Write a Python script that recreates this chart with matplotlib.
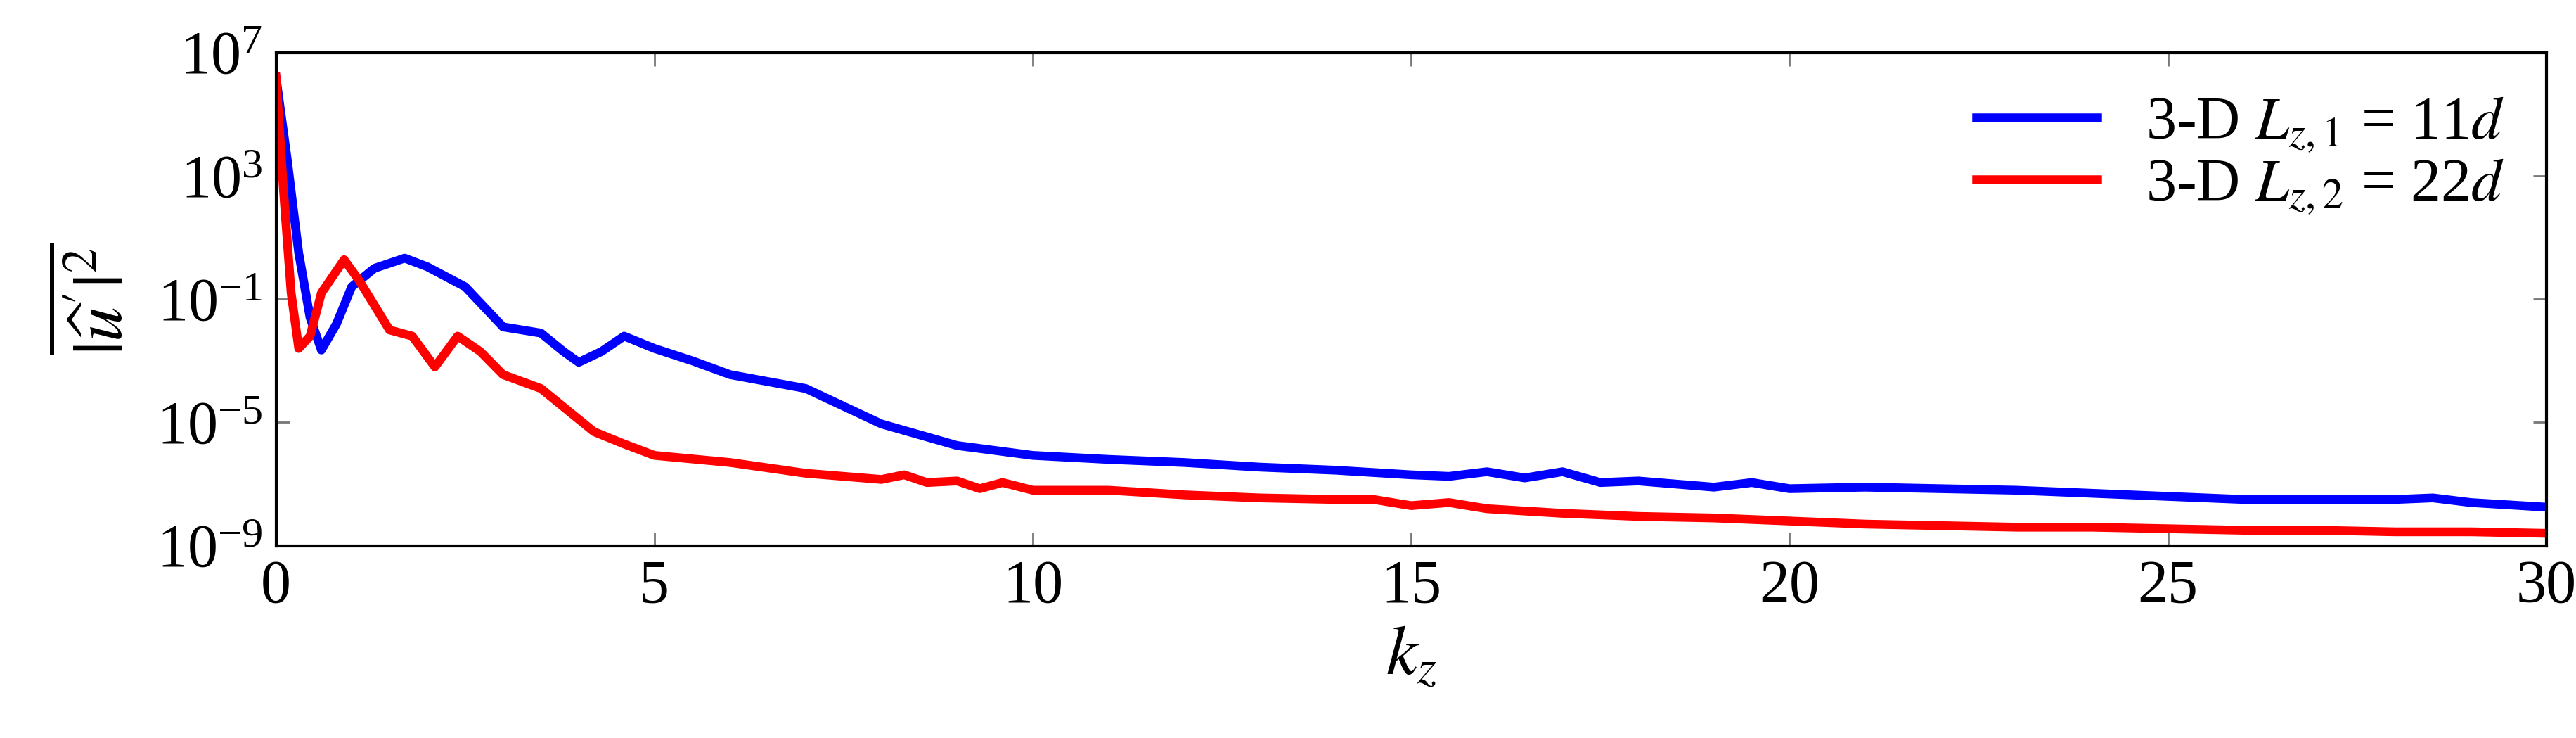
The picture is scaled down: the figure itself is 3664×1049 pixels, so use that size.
import matplotlib
matplotlib.use("Agg")
import matplotlib.pyplot as plt
import numpy as np

plt.rcParams['font.family'] = ['Liberation Serif', 'DejaVu Serif']
plt.rcParams['mathtext.fontset'] = 'stix'

kz_blue = [0, 0.15, 0.3, 0.45, 0.6, 0.8, 1.0, 1.3, 1.7, 2.0, 2.5, 3.0, 3.5, 3.8, 4.0, 4.3, 4.6, 5.0, 5.5, 6.0, 7.0, 8.0, 9.0, 10, 11, 12, 13, 14, 15, 15.5, 16, 16.5, 17, 17.5, 18, 19, 19.5, 20, 21, 22, 23, 24, 25, 26, 27, 28, 28.5, 29, 30]
lg_blue  = [6.2, 3.5, 0.5, -1.6, -2.65, -1.8, -0.6, 0.0, 0.33, 0.05, -0.6, -1.9, -2.1, -2.7, -3.05, -2.7, -2.2, -2.6, -3.0, -3.45, -3.9, -5.05, -5.75, -6.07, -6.2, -6.3, -6.45, -6.55, -6.7, -6.75, -6.6, -6.8, -6.6, -6.95, -6.9, -7.1, -6.95, -7.15, -7.1, -7.15, -7.2, -7.3, -7.4, -7.5, -7.5, -7.5, -7.45, -7.6, -7.75]

kz_red = [0, 0.1, 0.2, 0.3, 0.45, 0.6, 0.9, 1.1, 1.5, 1.8, 2.1, 2.4, 2.7, 3.0, 3.5, 3.8, 4.2, 4.6, 5.0, 6.0, 7.0, 8.0, 8.3, 8.6, 9.0, 9.3, 9.6, 10, 11, 12, 13, 14, 14.5, 15, 15.5, 16, 17, 18, 19, 20, 21, 22, 23, 24, 25, 26, 27, 28, 29, 30]
lg_red  = [6.2, 2.5, -0.8, -2.6, -2.2, -0.8, 0.28, -0.4, -2.0, -2.2, -3.2, -2.2, -2.7, -3.45, -3.9, -4.5, -5.3, -5.7, -6.07, -6.3, -6.65, -6.85, -6.7, -6.95, -6.9, -7.15, -6.95, -7.2, -7.2, -7.35, -7.45, -7.5, -7.5, -7.7, -7.6, -7.8, -7.95, -8.05, -8.1, -8.2, -8.3, -8.35, -8.4, -8.4, -8.45, -8.5, -8.5, -8.55, -8.55, -8.6]

fig = plt.figure(figsize=(36.64, 10.49), dpi=100)
ax = fig.add_axes([168/1568, 1-332/449, (1550-168)/1568, 300/449])
ax.plot(kz_blue, 10**np.array(lg_blue), color='#0000ff', lw=9, solid_joinstyle='round', label=r'3-D $L_{z,1}$ = 11$d$')
ax.plot(kz_red, 10**np.array(lg_red), color='#ff0000', lw=9, solid_joinstyle='round', label=r'3-D $L_{z,2}$ = 22$d$')
ax.set_yscale('log')
ax.set_xlim(0, 30)
ax.set_ylim(1e-9, 1e7)
ax.set_yticks([1e-9, 1e-5, 1e-1, 1e3, 1e7])
ax.minorticks_off()
ax.set_xticks([0, 5, 10, 15, 20, 25, 30])
ax.tick_params(direction='in', top=True, right=True, length=14, width=2, color='#777777', labelsize=62, pad=14)
for s in ax.spines.values():
    s.set_linewidth(3)
ax.set_xlabel(r'$k_z$', fontsize=72, labelpad=10)
ax.set_ylabel(r"$\overline{|\widehat{u}'|^2}$", fontsize=72, labelpad=20)
ax.legend(loc='upper right', fontsize=62, frameon=False, handlelength=2.0, borderaxespad=0.3, labelspacing=0.05)
fig.savefig('out.png', dpi=100)
